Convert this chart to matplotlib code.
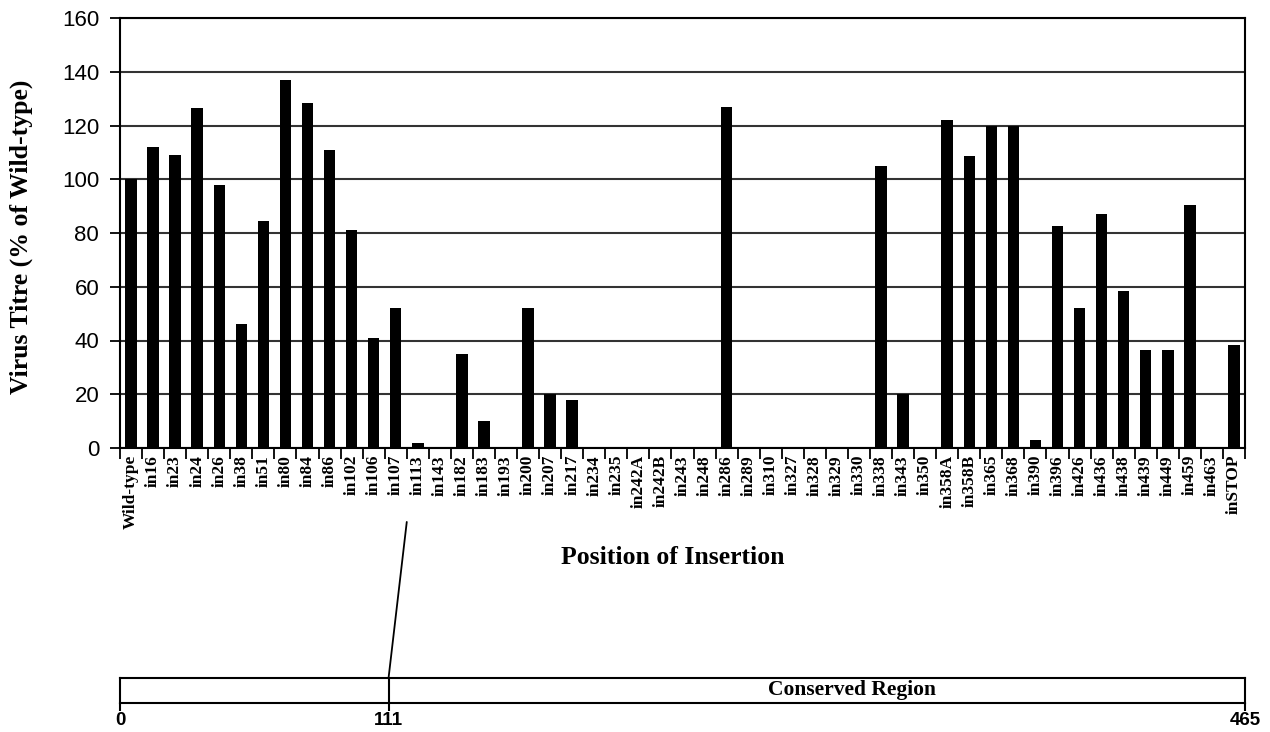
import matplotlib
matplotlib.use("Agg")
import matplotlib.pyplot as plt
import numpy as np
from matplotlib.patches import ConnectionPatch

labels = ["Wild-type", "in16", "in23", "in24", "in26", "in38", "in51", "in80", "in84", "in86",
          "in102", "in106", "in107", "in113", "in143", "in182", "in183", "in193", "in200", "in207",
          "in217", "in234", "in235", "in242A", "in242B", "in243", "in248", "in286", "in289", "in310",
          "in327", "in328", "in329", "in330", "in338", "in343", "in350", "in358A", "in358B", "in365",
          "in368", "in390", "in396", "in426", "in436", "in438", "in439", "in449", "in459", "in463",
          "inSTOP"]
values = [100, 112, 109, 126.5, 98, 46, 84.5, 137, 128.5, 111,
          81, 41, 52, 2, 0, 35, 10, 0, 52, 20,
          18, 0, 0, 0, 0, 0, 0, 127, 0, 0,
          0, 0, 0, 0, 105, 20, 0, 122, 108.5, 120,
          120, 3, 82.5, 52, 87, 58.5, 36.5, 36.5, 90.5, 0,
          38.5]
y_ticks = [0, 20, 40, 60, 80, 100, 120, 140, 160]
region_ticks = [0, 111, 465]
region_label = "Conserved Region"
link_position = 111
link_category_boundary = 12.5

serif = ["Liberation Serif", "DejaVu Serif"]
sans = ["Liberation Sans", "DejaVu Sans"]

fig = plt.figure(figsize=(12.7, 7.32), dpi=100)
W, H = 1270, 732

ax = fig.add_axes([120 / W, 1 - 448 / H, 1125 / W, 430 / H])
x = np.arange(len(labels))
ax.set_axisbelow(True)
ax.bar(x, values, width=0.52, color="black", zorder=3)
ax.set_xlim(-0.5, len(labels) - 0.5)
ax.set_ylim(0, 160)
ax.set_yticks(y_ticks)
ax.yaxis.grid(True, color="#333333", linewidth=1.5)
for s in ax.spines.values():
    s.set_linewidth(1.5)
    s.set_color("black")
ax.tick_params(axis="y", direction="out", length=7, width=1.3, pad=8)
for t in ax.get_yticklabels():
    t.set_fontfamily(sans)
    t.set_fontsize(16)
ax.set_xticks(x)
ax.set_xticklabels(labels, rotation=90, fontfamily=serif, fontweight="bold", fontsize=12.5)
ax.tick_params(axis="x", which="major", length=0, pad=5)
ax.set_xticks(np.arange(-0.5, len(labels), 1.0), minor=True)
ax.tick_params(axis="x", which="minor", direction="out", length=8, width=1.3)

fig.text(21 / W, 1 - 237 / H, "Virus Titre (% of Wild-type)", rotation=90, ha="center", va="center",
         fontfamily=serif, fontweight="bold", fontsize=18.5)
fig.text(673 / W, 1 - 558 / H, "Position of Insertion", ha="center", va="center",
         fontfamily=serif, fontweight="bold", fontsize=18.5)

ax2 = fig.add_axes([120 / W, 1 - 703 / H, 1125 / W, 25 / H])
ax2.set_xlim(0, 465)
ax2.set_ylim(0, 1)
ax2.set_yticks([])
ax2.set_xticks(region_ticks)
ax2.set_xticklabels([str(v) for v in region_ticks], fontfamily=sans, fontweight="bold", fontsize=13.5)
ax2.tick_params(axis="x", direction="out", length=6, width=1.5, pad=0.5)
for s in ax2.spines.values():
    s.set_linewidth(1.5)
    s.set_color("black")
ax2.axvline(link_position, color="black", linewidth=1.5)
ax2.text(0.651, 0.5, region_label, transform=ax2.transAxes, ha="center", va="center",
         fontfamily=serif, fontweight="bold", fontsize=15.5)

con = ConnectionPatch(xyA=(link_position, 1), coordsA=ax2.transData,
                      xyB=(link_category_boundary, -0.172), coordsB=ax.get_xaxis_transform(),
                      color="black", linewidth=1.3)
fig.add_artist(con)

fig.savefig("out.png", dpi=100)
